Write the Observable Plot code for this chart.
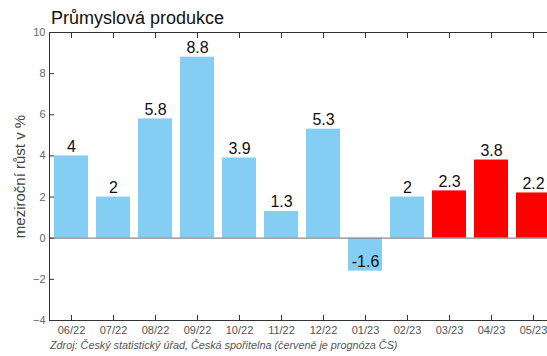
<!DOCTYPE html>
<html><head><meta charset="utf-8">
<script src="https://cdn.jsdelivr.net/npm/d3@7"></script>
<script src="https://cdn.jsdelivr.net/npm/@observablehq/plot@0.6"></script>
<style>
body{margin:0;background:#fff;font-family:"Liberation Sans",Arial,Helvetica,sans-serif;}
#wrap{position:relative;width:547px;height:356px;overflow:hidden;background:#fff;}
#title{position:absolute;left:51px;top:8px;font-size:18px;line-height:20px;color:#111;white-space:nowrap;}
#caption{position:absolute;left:50px;top:339px;font-size:10.8px;line-height:12px;font-style:italic;color:#555;white-space:nowrap;}
</style></head><body>
<div id="wrap"><div id="chart"></div>
<div id="title">Průmyslová produkce</div>
<div id="caption">Zdroj: Český statistický úřad, Česká spořitelna (červeně je prognóza ČS)</div>
</div>
<script>
const months = ["06/22","07/22","08/22","09/22","10/22","11/22","12/22","01/23","02/23","03/23","04/23","05/23"];
const values = [4, 2, 5.8, 8.8, 3.9, 1.3, 5.3, -1.6, 2, 2.3, 3.8, 2.2];
const forecast = [false,false,false,false,false,false,false,false,false,true,true,true];
const yTicks = [-4, -2, 0, 2, 4, 6, 8, 10];
const yLabel = "meziroční růst v %";

const data = months.map((m, i) => ({month: m, value: values[i], forecast: forecast[i]}));
const font = '"Liberation Sans", Arial, Helvetica, sans-serif';

const plot = Plot.plot({
  width: 547, height: 356,
  marginTop: 32, marginBottom: 36, marginLeft: 49, marginRight: 0,
  style: {fontFamily: font, fontSize: "11px", background: "white", overflow: "hidden"},
  x: {domain: months, range: [50, 554], paddingInner: 0.19, paddingOuter: 0.095, align: 0.5},
  y: {domain: [-4, 10]},
  marks: [
    Plot.barY(data.filter(d => !d.forecast), {x: "month", y: "value", fill: "#84CDF3"}),
    Plot.barY(data.filter(d => d.forecast), {x: "month", y: "value", fill: "#FF0000"}),
    Plot.ruleY([0], {stroke: "#8a8a8a", strokeWidth: 1.2}),
    Plot.frame({anchor: "left", stroke: "#333"}),
    Plot.frame({anchor: "top", stroke: "#333"}),
    Plot.frame({anchor: "bottom", stroke: "#333"}),
    Plot.axisY({ticks: yTicks, tickSize: -5, tickPadding: 9, label: null, stroke: "#333", fill: "#666", fontSize: 11}),
    Plot.axisX({anchor: "bottom", tickSize: -5, tickPadding: 11, label: null, stroke: "#333", fill: "#555", fontSize: 11}),
    Plot.axisX({anchor: "top", tickSize: -5, tickFormat: () => "", label: null, stroke: "#333"}),
    Plot.text(data, {x: "month", y: "value", text: d => String(d.value), lineAnchor: "bottom", dy: -4, fontSize: 16, fill: "#111"}),
    Plot.text([yLabel], {frameAnchor: "left", text: d => d, rotate: -90, dx: -29, textAnchor: "middle", fontSize: 15, fill: "#444"})
  ]
});
document.getElementById("chart").appendChild(plot);
</script>
</body></html>
